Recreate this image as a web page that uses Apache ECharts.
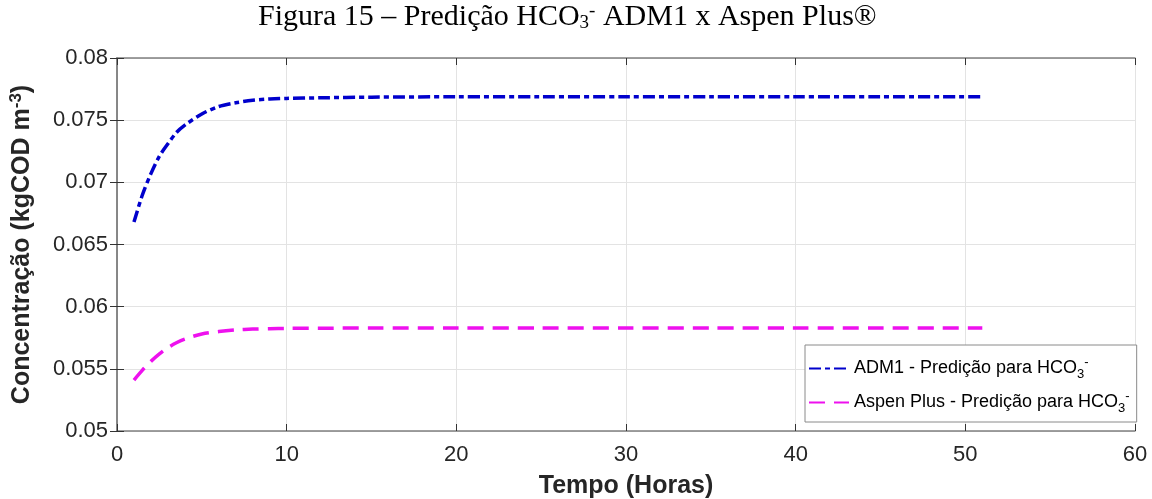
<!DOCTYPE html>
<html>
<head>
<meta charset="utf-8">
<title>Figura 15</title>
<script src="https://cdn.jsdelivr.net/npm/echarts@6/dist/echarts.min.js"></script>
<style>
  html, body { margin: 0; padding: 0; background: #fff; }
  #chart { width: 1152px; height: 499px; }
</style>
</head>
<body>
<div id="chart"></div>
<script>
// tempo (horas) e valores
const tempo = [1, 1.5, 2, 2.5, 3, 3.5, 4, 5, 6, 7, 8, 9, 10, 12, 15, 20, 25, 30, 35, 40, 45, 51];
const adm1 = [0.0668, 0.0690, 0.0707, 0.0721, 0.0731, 0.0740, 0.0746, 0.0755, 0.0761, 0.0764, 0.0766,
  0.0767, 0.07675, 0.0768, 0.07685, 0.07688, 0.07688, 0.07688, 0.07688, 0.07688, 0.07688, 0.07688];
const aspen = [0.0541, 0.0549, 0.0556, 0.0562, 0.0567, 0.0571, 0.0574, 0.0578, 0.0580, 0.05813, 0.0582,
  0.05823, 0.05825, 0.05827, 0.05828, 0.05828, 0.05828, 0.05828, 0.05828, 0.05828, 0.05828, 0.05828];
const nomes = ['ADM1 - Predição para HCO', 'Aspen Plus - Predição para HCO'];

const pares = (ys) => tempo.map((t, i) => [t, ys[i]]);

const chart = echarts.init(document.getElementById('chart'));
const fonte = '"Liberation Sans", Arial, sans-serif';
const serif = '"Liberation Serif", "Times New Roman", serif';
const subsup = {
  sub: { fontSize: 13, verticalAlign: 'bottom', padding: [12, 0, 0, 0], fontFamily: fonte, color: '#000' },
  sup: { fontSize: 13, verticalAlign: 'top', padding: [0, 0, 10, 0], fontFamily: fonte, color: '#000' }
};

const eixo = { show: true, lineStyle: { color: '#808080', width: 1.5 } };
const tique = { show: true, inside: true, length: 7, lineStyle: { color: '#333' } };
const grade = { show: true, lineStyle: { color: '#e3e3e3', width: 1 } };

const option = {
  backgroundColor: '#fff',
  animation: false,
  title: {
    text: 'Figura 15 – Predição HCO{sub|3}{sup|-} ADM1 x Aspen Plus®',
    left: 253,
    top: 0,
    padding: [2, 5],
    textStyle: {
      fontFamily: serif,
      fontSize: 30,
      fontWeight: 'normal',
      color: '#000',
      rich: {
        sub: { fontFamily: serif, fontSize: 19, verticalAlign: 'bottom', padding: [12, 0, 0, 0] },
        sup: { fontFamily: serif, fontSize: 19, verticalAlign: 'top', padding: [0, 0, 12, 0] }
      }
    }
  },
  grid: { left: 117, right: 17, top: 58, bottom: 68, containLabel: false, outerBoundsMode: 'none' },
  legend: {
    orient: 'vertical',
    left: 805,
    top: 345,
    backgroundColor: '#fff',
    borderColor: '#8a8a8a',
    borderWidth: 1,
    borderRadius: 0,
    padding: [11, 7, 7, 3],
    itemWidth: 40,
    itemHeight: 14,
    itemGap: 9,
    itemStyle: { opacity: 0 },
    formatter: (n) => n + '{sub|3}{sup|-}',
    textStyle: { fontFamily: fonte, fontSize: 18, color: '#000', rich: subsup },
    data: nomes
  },
  xAxis: [{
    type: 'value',
    min: 0, max: 60, interval: 10,
    name: 'Tempo (Horas)',
    nameLocation: 'middle',
    nameGap: 43,
    nameTextStyle: { fontFamily: fonte, fontSize: 25, fontWeight: 'bold', color: '#262626' },
    axisLine: eixo,
    axisTick: tique,
    axisLabel: { fontFamily: fonte, fontSize: 22, color: '#262626', margin: 13 },
    splitLine: grade
  }, {
    type: 'value', position: 'top',
    min: 0, max: 60, interval: 10,
    axisLine: eixo,
    axisTick: tique,
    axisLabel: { show: false },
    splitLine: { show: false }
  }],
  yAxis: [{
    type: 'value',
    min: 0.05, max: 0.08, interval: 0.005,
    name: 'Concentração (kgCOD m{sup|-3})',
    nameLocation: 'middle',
    nameGap: 80,
    nameTextStyle: {
      fontFamily: fonte, fontSize: 25, fontWeight: 'bold', color: '#262626',
      rich: { sup: { fontFamily: fonte, fontSize: 17, fontWeight: 'bold', color: '#262626', verticalAlign: 'top', padding: [0, 0, 12, 0] } }
    },
    axisLine: eixo,
    axisTick: tique,
    axisLabel: { fontFamily: fonte, fontSize: 22, color: '#262626', margin: 9, formatter: (v) => String(+v.toFixed(3)) },
    splitLine: grade
  }, {
    type: 'value', position: 'right',
    min: 0.05, max: 0.08, interval: 0.005,
    axisLine: eixo,
    axisTick: tique,
    axisLabel: { show: false },
    splitLine: { show: false }
  }],
  series: [{
    name: nomes[0],
    type: 'line',
    data: pares(adm1),
    smooth: 0.3,
    symbol: 'none',
    lineStyle: { color: '#0000cc', width: 3.5, type: [12, 4, 5, 4] },
    itemStyle: { color: '#0000cc' },
    z: 3
  }, {
    name: nomes[1],
    type: 'line',
    data: pares(aspen),
    smooth: 0.3,
    symbol: 'none',
    lineStyle: { color: '#ee11ee', width: 3.5, type: [16, 9] },
    itemStyle: { color: '#ee11ee' },
    z: 3
  }]
};

chart.setOption(option);
</script>
</body>
</html>
